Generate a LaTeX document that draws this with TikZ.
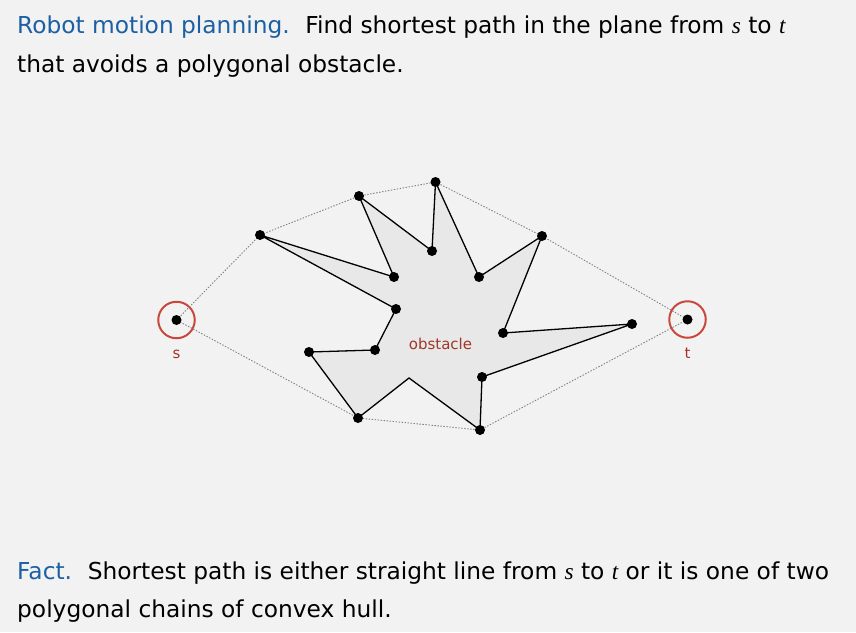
\documentclass[tikz,border=0pt]{standalone}
\usepackage{fontspec}
\setmainfont{DejaVu Sans}
\newfontfamily\serifital{Liberation Serif}
\newcommand{\itl}[1]{{\serifital\itshape #1}}
\definecolor{headblue}{RGB}{28,96,164}
\definecolor{ringred}{RGB}{200,72,62}
\definecolor{lblred}{RGB}{160,56,40}
\definecolor{bggray}{RGB}{242,242,242}
\definecolor{obstfill}{RGB}{232,232,232}
\tikzset{
  txt/.style={anchor=base west,inner sep=0pt,font=\fontsize{23.3}{28}\selectfont},
  lbl/.style={anchor=base,inner sep=0pt,text=lblred,font=\fontsize{15}{18}\selectfont},
  vertex/.style={circle,fill=black,inner sep=0pt,minimum size=10pt},
  ring/.style={circle,draw=ringred,line width=2pt,inner sep=0pt,minimum size=36.5pt},
  hull/.style={gray,line width=0.9pt,dash pattern=on 1.4pt off 1.6pt},
  obst/.style={fill=obstfill,draw=black,line width=1.3pt,line join=miter}
}
\begin{document}
\begin{tikzpicture}[x=1pt,y=-1pt]
  \useasboundingbox[fill=bggray] (0,0) rectangle (856,632);

  % text
  \node[txt] (head1) at (17,33) {\textcolor{headblue}{Robot motion planning.}\hspace{0.25em} Find shortest path in the plane from \itl{s} to \itl{t}};
  \node[txt] (head2) at (17,72) {that avoids a polygonal obstacle.};
  \node[txt] (fact1) at (17,579) {\textcolor{headblue}{Fact.}\hspace{0.25em} Shortest path is either straight line from \itl{s} to \itl{t} or it is one of two};
  \node[txt] (fact2) at (17,617) {polygonal chains of convex hull.};

  % obstacle corners
  \coordinate (A) at (260,235);
  \coordinate (B) at (359,196);
  \coordinate (C) at (435.5,182);
  \coordinate (D) at (394,277);
  \coordinate (E) at (432,251);
  \coordinate (F) at (396,309);
  \coordinate (G) at (375,350);
  \coordinate (H) at (309,352);
  \coordinate (I) at (358,418);
  \coordinate (J) at (409,378);
  \coordinate (K) at (479,277);
  \coordinate (L) at (542,236);
  \coordinate (M) at (503,333);
  \coordinate (N) at (632,324);
  \coordinate (O) at (482,377);
  \coordinate (P) at (480,430);

  \node[ring] (s) at (176.5,320) {};
  \node[ring] (t) at (687.5,319.5) {};

  \filldraw[obst] (A) -- (D) -- (B) -- (E) -- (C) -- (K) -- (L) -- (M)
    -- (N) -- (O) -- (P) -- (J) -- (I) -- (H) -- (G) -- (F) -- cycle;

  % convex hull
  \draw[hull] (s.center) -- (A) -- (B) -- (C) -- (L) -- (t.center)
    -- (P) -- (I) -- cycle;

  \foreach \v in {A,B,C,D,E,F,G,H,I,K,L,M,N,O,P}
    \node[vertex] at (\v) {};
  \node[vertex] (sdot) at (s) {};
  \node[vertex] (tdot) at (t) {};

  \node[lbl] (slbl) at (176.5,358.5) {s};
  \node[lbl] (tlbl) at (687.5,358.5) {t};
  \node[lbl] (olbl) at (440.5,349.5) {obstacle};
\end{tikzpicture}
\end{document}
